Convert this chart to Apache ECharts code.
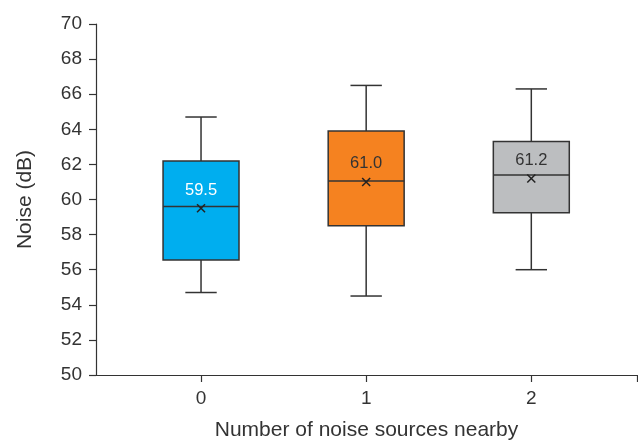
<!DOCTYPE html>
<html><head><meta charset="utf-8">
<script src="https://cdn.jsdelivr.net/npm/echarts@6/dist/echarts.min.js"></script>
<style>html,body{margin:0;padding:0;background:#fff}#c{width:638px;height:442px}</style>
</head><body><div id="c"></div>
<script>
const categories = ['0', '1', '2'];
const whiskerLow = [54.7, 54.5, 56.0];
const q1 = [56.55, 58.5, 59.25];
const median = [59.6, 61.05, 61.4];
const q3 = [62.2, 63.9, 63.3];
const whiskerHigh = [64.7, 66.5, 66.3];
const means = [59.5, 61.0, 61.2];
const meanLabels = ['59.5', '61.0', '61.2'];
const boxColors = ['#00AEEF', '#F58220', '#BCBEC0'];
const labelColors = ['#ffffff', '#333333', '#333333'];

const data = categories.map((c, i) => [i, whiskerLow[i], q1[i], median[i], q3[i], whiskerHigh[i], means[i]]);

const chart = echarts.init(document.getElementById('c'));
const axisColor = '#333333';
const font = 'Liberation Sans, Arial, sans-serif';

function renderItem(params, api) {
  const i = api.value(0);
  const xc = api.coord([i, 0])[0];
  const halfW = api.size([0.46, 0])[0] / 2;
  const capW = api.size([0.19, 0])[0] / 2;
  const yLow = api.coord([i, api.value(1)])[1];
  const yQ1 = api.coord([i, api.value(2)])[1];
  const yMed = api.coord([i, api.value(3)])[1];
  const yQ3 = api.coord([i, api.value(4)])[1];
  const yHigh = api.coord([i, api.value(5)])[1];
  const yMean = api.coord([i, api.value(6)])[1];
  const st = {stroke: '#333333', lineWidth: 1.5};
  const m = 4;
  return {
    type: 'group',
    children: [
      {type: 'line', shape: {x1: xc, y1: yHigh, x2: xc, y2: yQ3}, style: st},
      {type: 'line', shape: {x1: xc, y1: yQ1, x2: xc, y2: yLow}, style: st},
      {type: 'line', shape: {x1: xc - capW, y1: yHigh, x2: xc + capW, y2: yHigh}, style: st},
      {type: 'line', shape: {x1: xc - capW, y1: yLow, x2: xc + capW, y2: yLow}, style: st},
      {type: 'rect', shape: {x: xc - halfW, y: yQ3, width: 2 * halfW, height: yQ1 - yQ3},
        style: {fill: boxColors[i], stroke: '#333333', lineWidth: 1.5}},
      {type: 'line', shape: {x1: xc - halfW, y1: yMed, x2: xc + halfW, y2: yMed}, style: st},
      {type: 'line', shape: {x1: xc - m, y1: yMean - m, x2: xc + m, y2: yMean + m}, style: {stroke: '#222', lineWidth: 1.5}},
      {type: 'line', shape: {x1: xc - m, y1: yMean + m, x2: xc + m, y2: yMean - m}, style: {stroke: '#222', lineWidth: 1.5}},
      {type: 'text', style: {x: xc, y: yMean - 18, text: meanLabels[i], fill: labelColors[i],
        font: '16.5px ' + font, align: 'center', verticalAlign: 'middle'}}
    ]
  };
}

chart.setOption({
  animation: false,
  grid: {left: 96, right: 1, top: 24, bottom: 67, outerBoundsMode: 'none', containLabel: false},
  xAxis: {
    type: 'value', min: -0.636, max: 2.64,
    name: 'Number of noise sources nearby', nameLocation: 'middle', nameGap: 45,
    nameTextStyle: {fontSize: 21, color: axisColor, fontFamily: font},
    axisLine: {show: true, onZero: false, lineStyle: {color: axisColor, width: 1.2}},
    axisTick: {show: true, length: 7, lineStyle: {color: axisColor, width: 1.2}, customValues: [0, 1, 2, 2.64]},
    axisLabel: {customValues: [0, 1, 2], margin: 14, fontSize: 19, color: axisColor, fontFamily: font,
      formatter: v => categories[Math.round(v)]},
    splitLine: {show: false}
  },
  yAxis: {
    type: 'value', min: 50, max: 70, interval: 2,
    name: 'Noise (dB)', nameLocation: 'middle', nameGap: 60, nameRotate: 90,
    nameTextStyle: {fontSize: 21, color: axisColor, fontFamily: font},
    axisLine: {show: true, onZero: false, lineStyle: {color: axisColor, width: 1.2}},
    axisTick: {show: true, length: 7, lineStyle: {color: axisColor, width: 1.2}},
    axisLabel: {margin: 14, fontSize: 19, color: axisColor, fontFamily: font},
    splitLine: {show: false}
  },
  series: [{
    type: 'custom',
    renderItem: renderItem,
    encode: {x: 0, y: [1, 2, 3, 4, 5]},
    data: data
  }]
});
</script>
</body></html>
